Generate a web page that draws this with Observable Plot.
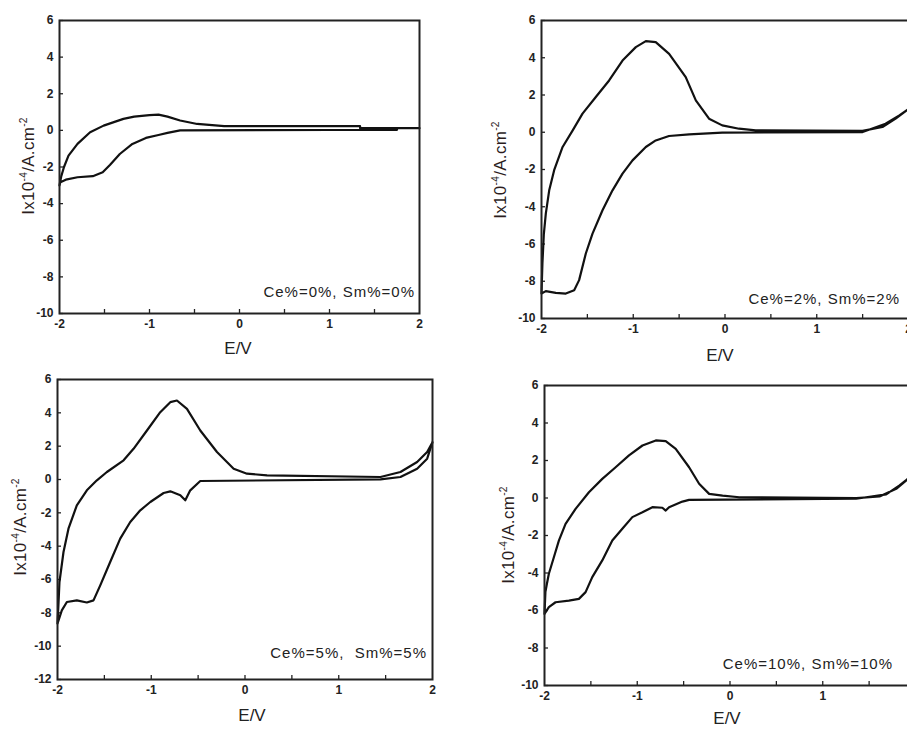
<!DOCTYPE html>
<html><head><meta charset="utf-8">
<script src="https://cdn.jsdelivr.net/npm/d3@7"></script>
<script src="https://cdn.jsdelivr.net/npm/@observablehq/plot@0.6"></script>
<style>
body{margin:0;background:#fff;}
#wrap{position:relative;width:907px;height:729px;overflow:hidden;background:#fff;font-family:"Liberation Sans",Arial,sans-serif;}
#wrap svg{position:absolute;}
.ylab{position:absolute;transform:translate(-50%,-50%) rotate(-90deg);white-space:nowrap;font-size:17px;letter-spacing:0.3px;color:#2b1d1d;line-height:1;}
.ylab sup{font-size:0.6em;line-height:0;vertical-align:0.65em;}
.xlab{position:absolute;transform:translate(-50%,-50%);font-size:17px;color:#222;line-height:1;white-space:nowrap;}
.note{position:absolute;transform:translate(-100%,-50%);font-size:15px;letter-spacing:1px;color:#222;line-height:1;white-space:pre;}
</style>
</head><body><div id="wrap"></div>
<script>
// ---- data ----
const xTickLabels = [-2, -1, 0, 1, 2];
const xMinorTicks = [-1.5, -1, -0.5, 0, 0.5, 1, 1.5];
const yTicksA = [6, 4, 2, 0, -2, -4, -6, -8, -10];
const yTicksB = [6, 4, 2, 0, -2, -4, -6, -8, -10, -12];

const labels = ["Ce%=0%, Sm%=0%", "Ce%=2%, Sm%=2%", "Ce%=5%,  Sm%=5%", "Ce%=10%, Sm%=10%"];

// Ce 0%, Sm 0%  (anodic sweep then cathodic return)
const p0E = [-2,-1.98,-1.95,-1.9,-1.8,-1.66,-1.51,-1.29,-1.17,-1.0,-0.9,-0.8,-0.66,-0.47,-0.17,1.34,1.34,2,
             1.75,1.75,1.0,-0.66,-0.8,-0.9,-1.04,-1.19,-1.33,-1.44,-1.52,-1.63,-1.8,-1.93,-1.99,-2];
const p0I = [-3.0,-2.5,-2.0,-1.38,-0.74,-0.1,0.26,0.63,0.75,0.83,0.86,0.75,0.54,0.35,0.23,0.23,0.12,0.12,
             0.12,0.03,0.02,0.0,-0.14,-0.25,-0.41,-0.74,-1.29,-1.89,-2.29,-2.5,-2.56,-2.69,-2.83,-3.0];

// Ce 2%, Sm 2%
const p2E = [-2,-1.99,-1.975,-1.953,-1.916,-1.862,-1.77,-1.66,-1.553,-1.408,-1.263,-1.117,-0.972,-0.863,-0.755,-0.609,-0.428,-0.318,-0.174,-0.03,0.153,0.335,1.498,1.716,1.86,2,
             1.9,1.75,1.5,-0.03,-0.39,-0.61,-0.755,-0.863,-1.008,-1.117,-1.226,-1.335,-1.444,-1.517,-1.59,-1.644,-1.735,-1.844,-1.953,-2];
const p2I = [-8.66,-7.05,-5.5,-4.37,-3.12,-2.04,-0.79,0.1,1.0,1.89,2.78,3.85,4.57,4.89,4.84,4.21,2.96,1.71,0.73,0.37,0.19,0.1,0.07,0.28,0.73,1.25,
             0.9,0.46,0.01,-0.02,-0.11,-0.2,-0.44,-0.79,-1.51,-2.22,-3.12,-4.19,-5.44,-6.51,-7.94,-8.48,-8.66,-8.62,-8.53,-8.66];

// Ce 5%, Sm 5%
const p5E = [-2,-1.99,-1.979,-1.936,-1.883,-1.794,-1.687,-1.58,-1.473,-1.295,-1.189,-1.046,-0.904,-0.797,-0.726,-0.619,-0.477,-0.299,-0.121,0.021,0.235,1.445,1.658,1.836,1.943,2,
             1.943,1.836,1.658,1.445,-0.477,-0.584,-0.637,-0.69,-0.797,-0.868,-1.01,-1.117,-1.224,-1.331,-1.438,-1.544,-1.616,-1.687,-1.794,-1.9,-1.954,-1.989,-2];
const p5I = [-8.64,-7.5,-6.15,-4.35,-2.95,-1.55,-0.65,-0.05,0.45,1.15,1.84,2.94,4.04,4.64,4.74,4.24,2.94,1.65,0.65,0.35,0.25,0.15,0.45,1.05,1.65,2.24,
             1.25,0.65,0.15,0.01,-0.09,-0.65,-1.25,-0.95,-0.71,-0.81,-1.35,-1.85,-2.55,-3.55,-4.95,-6.35,-7.25,-7.38,-7.25,-7.35,-7.85,-8.45,-8.64];

// Ce 10%, Sm 10%
const p10E = [-2,-1.99,-1.975,-1.953,-1.899,-1.845,-1.773,-1.665,-1.521,-1.377,-1.233,-1.089,-0.944,-0.8,-0.693,-0.585,-0.441,-0.333,-0.225,-0.08,0.1,1.36,1.612,1.792,1.922,2,
              1.9,1.828,1.684,1.36,-0.441,-0.513,-0.657,-0.693,-0.729,-0.837,-0.944,-1.053,-1.161,-1.269,-1.377,-1.485,-1.557,-1.629,-1.737,-1.881,-1.953,-2];
const p10I = [-6.18,-5.0,-4.6,-4.04,-3.16,-2.27,-1.38,-0.58,0.31,1.02,1.64,2.27,2.8,3.07,3.03,2.62,1.64,0.76,0.22,0.13,0.04,-0.01,0.08,0.49,1.02,1.4,
              0.95,0.67,0.19,-0.04,-0.1,-0.19,-0.49,-0.67,-0.52,-0.49,-0.76,-1.02,-1.64,-2.27,-3.33,-4.22,-5.02,-5.38,-5.47,-5.56,-5.82,-6.18];

// ---- layout ----
const wrap = document.getElementById("wrap");
const fmt = d => String(d);

function panel(cfg) {
  const data = cfg.E.map((e, i) => ({E: e, I: cfg.I[i]}));
  const innerW = cfg.fr - cfg.fl, innerH = cfg.fb - cfg.ft;
  const mr = 30, mb = 30;
  const svg = Plot.plot({
    width: cfg.fr - cfg.left + mr,
    height: cfg.fb - cfg.top + mb,
    marginLeft: cfg.fl - cfg.left,
    marginTop: cfg.ft - cfg.top,
    marginRight: mr,
    marginBottom: mb,
    x: {domain: [-2, 2]},
    y: {domain: cfg.ydom},
    style: {fontFamily: "Liberation Sans, Arial, sans-serif", fontSize: "12px", fontWeight: "bold", color: "#222", background: "transparent", overflow: "visible"},
    marks: [
      Plot.axisX(xTickLabels, {tickSize: 0, tickPadding: 6, tickFormat: fmt, label: null}),
      Plot.axisY(cfg.yt, {tickSize: 0, tickPadding: 6, tickFormat: fmt, label: null}),
      Plot.tickX(xMinorTicks, {x: d => d, insetTop: innerH - 4, stroke: "#222", strokeWidth: 1.3}),
      Plot.tickY(cfg.yt, {y: d => d, insetRight: innerW - 4, stroke: "#222", strokeWidth: 1.3}),
      Plot.line(data, {x: "E", y: "I", stroke: "#111", strokeWidth: 2.2}),
      Plot.frame({stroke: "#222", strokeWidth: 2})
    ]
  });
  svg.style.left = cfg.left + "px";
  svg.style.top = cfg.top + "px";
  wrap.appendChild(svg);

  const yl = document.createElement("div");
  yl.className = "ylab";
  yl.innerHTML = "Ix10<sup>-4</sup>/A.cm<sup>-2</sup>";
  yl.style.left = cfg.yl[0] + "px"; yl.style.top = cfg.yl[1] + "px";
  wrap.appendChild(yl);

  const xl = document.createElement("div");
  xl.className = "xlab";
  xl.textContent = "E/V";
  xl.style.left = cfg.xl[0] + "px"; xl.style.top = cfg.xl[1] + "px";
  wrap.appendChild(xl);

  const nt = document.createElement("div");
  nt.className = "note";
  nt.textContent = cfg.note;
  nt.style.left = cfg.nt[0] + "px"; nt.style.top = cfg.nt[1] + "px";
  wrap.appendChild(nt);
}

panel({E: p0E, I: p0I, left: 0, top: 0, fl: 59, ft: 20, fr: 419, fb: 313, ydom: [-10, 6], yt: yTicksA,
       yl: [28, 166], xl: [238, 348], nt: [415, 291], note: labels[0]});
panel({E: p2E, I: p2I, left: 460, top: 0, fl: 541, ft: 20, fr: 908, fb: 318, ydom: [-10, 6], yt: yTicksA,
       yl: [500, 170], xl: [720, 355], nt: [900, 298], note: labels[1]});
panel({E: p5E, I: p5I, left: 0, top: 360, fl: 57, ft: 379, fr: 432, fb: 679, ydom: [-12, 6], yt: yTicksB,
       yl: [20, 527], xl: [252, 715], nt: [427, 652], note: labels[2]});
panel({E: p10E, I: p10I, left: 460, top: 360, fl: 544, ft: 385, fr: 915, fb: 685, ydom: [-10, 6], yt: yTicksA,
       yl: [508, 535], xl: [727, 718], nt: [893, 663], note: labels[3]});
</script>
</body></html>
